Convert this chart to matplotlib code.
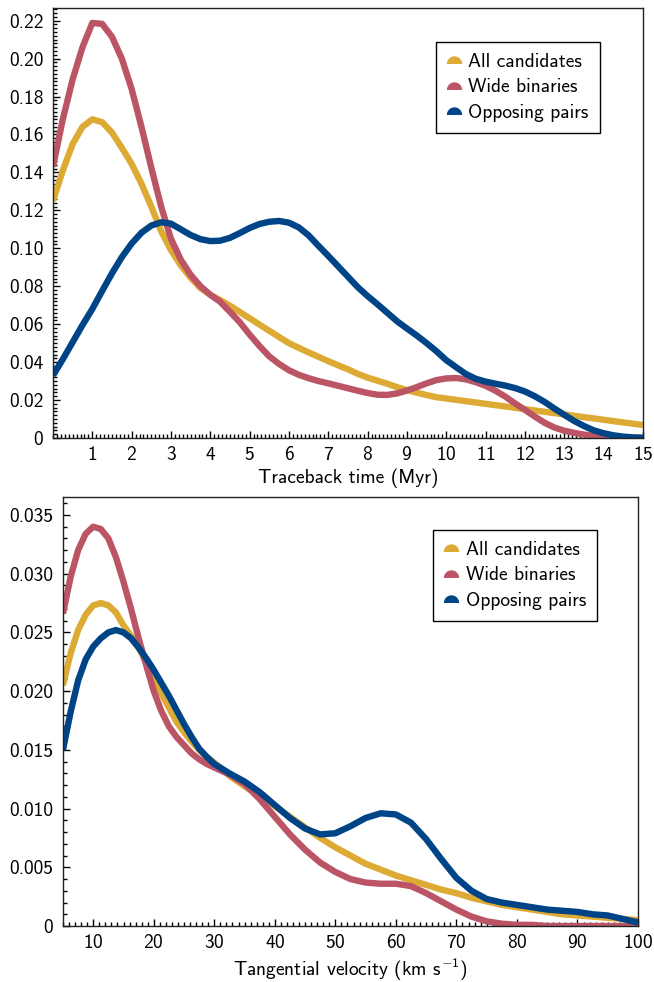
import numpy as np
import matplotlib
matplotlib.use("Agg")
import matplotlib.pyplot as plt
from matplotlib.path import Path
from matplotlib.lines import Line2D
from matplotlib.ticker import MultipleLocator, FixedLocator, FuncFormatter

plt.rcParams['font.family'] = ['cmss10', 'DejaVu Sans']
plt.rcParams['mathtext.fontset'] = 'custom'
plt.rcParams['mathtext.rm'] = 'cmss10'
plt.rcParams['mathtext.it'] = 'cmss10'
plt.rcParams['axes.formatter.use_mathtext'] = True
plt.rcParams['font.size'] = 14

labels = ['All candidates', 'Wide binaries', 'Opposing pairs']
colors = ['#DDAA33', '#BB5566', '#004488']

# ---- traceback time (Myr), step 0.25
t = np.arange(0, 15.01, 0.25)
t_all = [0.125, 0.141, 0.155, 0.164, 0.168, 0.1665, 0.161, 0.153, 0.1445, 0.134,
         0.122, 0.109, 0.099, 0.091, 0.0845, 0.079, 0.0755, 0.0727, 0.0697, 0.0664,
         0.0631, 0.0598, 0.0565, 0.0532, 0.050, 0.0475, 0.0451, 0.0428, 0.0405, 0.0383,
         0.0362, 0.0338, 0.0318, 0.0302, 0.0286, 0.0268, 0.0252, 0.0239, 0.0226, 0.0215,
         0.0208, 0.0201, 0.0194, 0.0187, 0.018, 0.0173, 0.0166, 0.0159, 0.0152, 0.0145,
         0.0138, 0.0131, 0.0124, 0.0117, 0.011, 0.0103, 0.0096, 0.0089, 0.0082, 0.0075,
         0.0068]
t_wide = [0.143, 0.168, 0.189, 0.206, 0.2188, 0.2183, 0.2115, 0.200, 0.184, 0.164,
          0.1425, 0.122, 0.105, 0.094, 0.086, 0.080, 0.0755, 0.0718, 0.0665, 0.061,
          0.0545, 0.0485, 0.043, 0.039, 0.0357, 0.0333, 0.0315, 0.0300, 0.0288, 0.0275,
          0.0262, 0.0249, 0.0237, 0.0228, 0.0227, 0.0235, 0.0250, 0.0268, 0.0288, 0.0305,
          0.0314, 0.0316, 0.0309, 0.0294, 0.0275, 0.0249, 0.0218, 0.0182, 0.0148, 0.0113,
          0.0080, 0.0055, 0.0038, 0.0027, 0.0018, 0.0011, 0.0006, 0.0003, 0.0001, 0.0,
          0.0]
t_opp = [0.033, 0.0415, 0.0505, 0.0595, 0.068, 0.0775, 0.0868, 0.0953, 0.1025, 0.1082,
         0.1120, 0.1137, 0.1130, 0.110, 0.107, 0.1048, 0.1038, 0.104, 0.1055, 0.108,
         0.1107, 0.1128, 0.114, 0.1144, 0.1135, 0.111, 0.1068, 0.1013, 0.096, 0.0905,
         0.0850, 0.0795, 0.0748, 0.0705, 0.066, 0.0615, 0.0577, 0.054, 0.050, 0.0457,
         0.041, 0.0373, 0.0337, 0.0312, 0.0297, 0.0286, 0.0276, 0.0263, 0.0245, 0.0220,
         0.0190, 0.0155, 0.0122, 0.0090, 0.0063, 0.0040, 0.0025, 0.0014, 0.0007, 0.0003,
         0.0001]

# ---- tangential velocity (km/s): 1.25 steps up to 30, then 2.5 steps
v = [5, 6.25, 7.5, 8.75, 10, 11.25, 12.5, 13.75, 15, 16.25, 17.5, 18.75, 20, 21.25,
     22.5, 23.75, 25, 26.25, 27.5, 28.75, 30, 32.5, 35, 37.5, 40, 42.5, 45, 47.5, 50,
     52.5, 55, 57.5, 60, 62.5, 65, 67.5, 70, 72.5, 75, 77.5, 80, 82.5, 85, 87.5, 90,
     92.5, 95, 97.5, 100]
v_all = [0.0205, 0.0232, 0.0252, 0.0265, 0.0273, 0.0275, 0.0273, 0.0267, 0.0256, 0.0247,
         0.0237, 0.0224, 0.0211, 0.0198, 0.0186, 0.0174, 0.0165, 0.0157, 0.0150, 0.0144,
         0.0139, 0.0128, 0.0119, 0.0111, 0.0102, 0.0093, 0.0084, 0.0075, 0.0067, 0.0060,
         0.0053, 0.0048, 0.0043, 0.0039, 0.0035, 0.0031, 0.0028, 0.0024, 0.0021, 0.0018,
         0.0016, 0.0014, 0.0012, 0.0010, 0.0009, 0.0008, 0.0007, 0.0006, 0.0005]
v_wide = [0.0266, 0.0297, 0.0320, 0.0334, 0.0340, 0.0338, 0.0330, 0.0314, 0.0293, 0.0270,
          0.0245, 0.0222, 0.0200, 0.0183, 0.0170, 0.0161, 0.0154, 0.0147, 0.0142, 0.0138,
          0.0135, 0.0129, 0.0121, 0.0108, 0.0093, 0.0078, 0.0065, 0.0054, 0.0046, 0.0040,
          0.0037, 0.0036, 0.0036, 0.0034, 0.0028, 0.0021, 0.0014, 0.0008, 0.0004, 0.0002,
          0.0001, 0.0001, 0.0, 0.0, 0.0, 0.0, 0.0, 0.0, 0.0]
v_opp = [0.0150, 0.0182, 0.0209, 0.0227, 0.0238, 0.0245, 0.0250, 0.0252, 0.0250, 0.0245,
         0.0237, 0.0228, 0.0218, 0.0207, 0.0196, 0.0184, 0.0172, 0.0161, 0.0151, 0.0144,
         0.0138, 0.0130, 0.0123, 0.0114, 0.0103, 0.0092, 0.0083, 0.0078, 0.0079, 0.0085,
         0.0092, 0.0096, 0.0095, 0.0088, 0.0074, 0.0057, 0.0041, 0.0030, 0.0023, 0.0020,
         0.0018, 0.0016, 0.0014, 0.0013, 0.0012, 0.0010, 0.0009, 0.0006, 0.0003]

t_xticks = list(range(1, 16))
t_yticks = [0, 0.02, 0.04, 0.06, 0.08, 0.10, 0.12, 0.14, 0.16, 0.18, 0.20, 0.22]
v_xticks = list(range(10, 101, 10))
v_yticks = [0, 0.005, 0.010, 0.015, 0.020, 0.025, 0.030, 0.035]

# half-disc legend marker, flat side down
th = np.linspace(0, np.pi, 40)
dome = Path(np.column_stack([np.cos(th), np.sin(th) - 0.5]))


def style(ax, xticks, yticks, fmt, xminor, yminor):
    ax.xaxis.set_major_locator(FixedLocator(xticks))
    ax.yaxis.set_major_locator(FixedLocator(yticks))
    ax.xaxis.set_minor_locator(MultipleLocator(xminor))
    ax.yaxis.set_minor_locator(MultipleLocator(yminor))
    ax.yaxis.set_major_formatter(FuncFormatter(lambda y, p: '0' if abs(y) < 1e-12 else fmt.format(y)))
    ax.tick_params(which='both', direction='in', top=False, right=False, width=1.0)
    ax.tick_params(which='major', length=5, labelsize=14)
    ax.tick_params(which='minor', length=3)
    ax.tick_params(axis='y', which='major', pad=7)
    ax.tick_params(axis='x', which='major', pad=6)
    for s in ax.spines.values():
        s.set_linewidth(1.0)
        s.set_color('#222222')


def legend(ax, anchor):
    handles = [Line2D([], [], color=c, marker=dome, ls='none', ms=10) for c in colors]
    leg = ax.legend(handles, labels, loc='upper right', bbox_to_anchor=anchor,
                    borderaxespad=0, fancybox=False, framealpha=1, edgecolor='black',
                    fontsize=14, handlelength=0.7, handletextpad=0.38, borderpad=0.57,
                    labelspacing=0.38)
    leg.get_frame().set_linewidth(1.0)


fig = plt.figure(figsize=(6.54, 9.82), dpi=100)
ax1 = fig.add_axes([0.0810, 0.554, 0.9021, 0.4379])
ax2 = fig.add_axes([0.0963, 0.0570, 0.8792, 0.4369])

for y, c in zip([t_all, t_wide, t_opp], colors):
    ax1.plot(t, y, color=c, lw=4.6, solid_joinstyle='round', solid_capstyle='butt')
ax1.set_xlim(0, 15)
ax1.set_ylim(0, 0.2267)
style(ax1, t_xticks, t_yticks, '{:.2f}', 0.1, 0.002)
ax1.set_xlabel('Traceback time (Myr)', fontsize=14, labelpad=3)
legend(ax1, (0.927, 0.921))

for y, c in zip([v_all, v_wide, v_opp], colors):
    ax2.plot(v, y, color=c, lw=4.6, solid_joinstyle='round', solid_capstyle='butt')
ax2.set_xlim(5, 100)
ax2.set_ylim(0, 0.03653)
style(ax2, v_xticks, v_yticks, '{:.3f}', 1, 0.001)
ax2.set_xlabel(r'Tangential velocity (km s$^{-1}$)', fontsize=14, labelpad=3)
legend(ax2, (0.9287, 0.923))

fig.savefig('out.png', dpi=100)
